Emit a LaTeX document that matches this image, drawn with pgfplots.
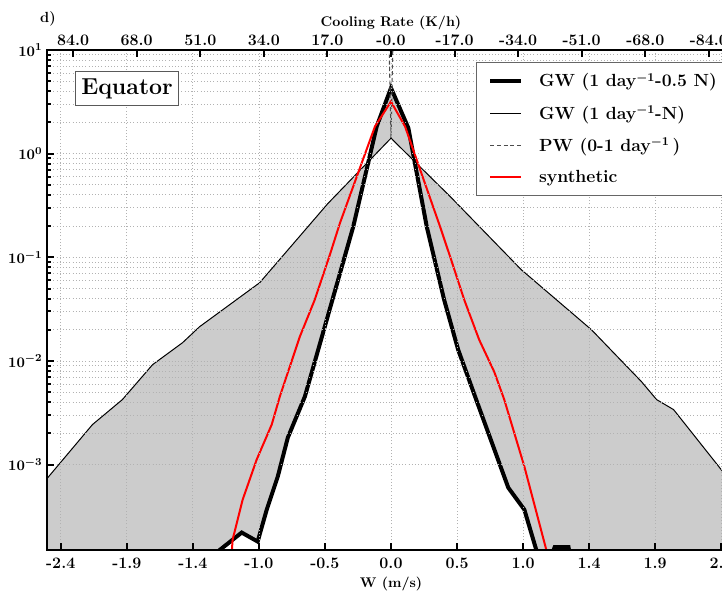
\documentclass[border=0pt]{standalone}
\usepackage{pgfplots}
\pgfplotsset{compat=1.18}

% GW (1 day^-1 - N): wide distribution, top edge of the grey band
\pgfplotstableread{
w p
-2.505 7.2e-4
-2.170 2.43e-3
-1.952 4.24e-3
-1.733 9.2e-3
-1.515 0.015
-1.391 0.0214
-0.954 0.0569
-0.459 0.33
0.000 1.41
0.430 0.386
0.947 0.0759
1.457 0.020
1.821 6.3e-3
1.930 4.24e-3
2.054 3.39e-3
2.410 8.6e-4
2.505 6.0e-4
}\tabwide

% GW (1 day^-1 - 0.5 N): narrow distribution
\pgfplotstableread{
w p
-2.505 1e-5
-1.400 3e-5
-1.245 1.5e-4
-1.085 2.21e-4
-0.969 1.81e-4
-0.903 3.68e-4
-0.823 7.66e-4
-0.750 1.82e-3
-0.626 4.53e-3
-0.2746 0.197
-0.104 1.83
0.000 4.3
0.126 1.77
0.260 0.197
0.386 0.039
0.488 0.01285
0.619 4.24e-3
0.852 6.0e-4
0.969 3.68e-4
1.056 1.5e-4
1.100 8e-5
1.190 1.6e-4
1.290 1.6e-4
1.330 8e-5
2.505 1e-5
}\tabnarrow

% grey band: wide curve left to right, then narrow curve right to left
\pgfplotstableread{
w p
-2.505 7.2e-4
-2.170 2.43e-3
-1.952 4.24e-3
-1.733 9.2e-3
-1.515 0.015
-1.391 0.0214
-0.954 0.0569
-0.459 0.33
0.000 1.41
0.430 0.386
0.947 0.0759
1.457 0.020
1.821 6.3e-3
1.930 4.24e-3
2.054 3.39e-3
2.410 8.6e-4
2.505 6.0e-4
2.505 1e-5
1.330 8e-5
1.290 1.6e-4
1.190 1.6e-4
1.100 8e-5
1.056 1.5e-4
0.969 3.68e-4
0.852 6.0e-4
0.619 4.24e-3
0.488 0.01285
0.386 0.039
0.260 0.197
0.126 1.77
0.000 4.3
-0.104 1.83
-0.2746 0.197
-0.626 4.53e-3
-0.750 1.82e-3
-0.823 7.66e-4
-0.903 3.68e-4
-0.969 1.81e-4
-1.085 2.21e-4
-1.245 1.5e-4
-1.400 3e-5
-2.505 1e-5
}\tabband

% PW (0-1 day^-1)
\pgfplotstableread{
w p
-0.02 30
0.00 1.42
0.02 30
}\tabpw

% synthetic
\pgfplotstableread{
w p
-1.165 1.0e-4
-1.151 1.89e-4
-1.078 4.59e-4
-0.976 1.12e-3
-0.867 2.43e-3
-0.808 4.53e-3
-0.663 0.0171
-0.554 0.039
-0.444 0.106
-0.371 0.214
-0.1165 1.83
0.000 3.18
0.102 1.83
0.357 0.197
0.437 0.0948
0.532 0.039
0.641 0.016
0.750 7.88e-3
0.823 4.24e-3
0.969 9.6e-4
1.129 1.5e-4
1.150 1.0e-4
}\tabsynth

\pgfplotsset{
  common/.style={
    at={(35.25pt,-412.5pt)}, anchor=south west,
    scale only axis, width=516pt, height=375pt,
    xmin=-2.5, xmax=2.5,
    axis line style={line width=2pt},
    tick style={line width=1.5pt, black},
    tick align=inside,
    major tick length=5.25pt,
    minor tick length=3pt,
    xticklabel style={font=\fontsize{12}{14}\selectfont\bfseries\boldmath},
    yticklabel style={font=\fontsize{11}{13}\selectfont\bfseries\boldmath},
    label style={font=\fontsize{10.5}{12}\selectfont\bfseries\boldmath},
  },
}

\begin{document}
\begin{tikzpicture}
\begin{scope}
\clip (0,0) rectangle (541.5pt,-443.25pt);
\begin{axis}[common,
  ymode=log, ymin=1.5e-4, ymax=10,
  xtick={-2.4,-1.92,-1.44,-0.96,-0.48,0,0.48,0.96,1.44,1.92,2.4},
  xticklabels={-2.4,-1.9,-1.4,-1.0,-0.5,0.0,0.5,1.0,1.4,1.9,2.4},
  xtick pos=left, ytick pos=left,
  ytick={1e-3,1e-2,1e-1,1,10},
  xticklabel style={yshift=-2.5pt},
  xlabel={W (m/s)},
  xlabel style={yshift=1pt},
  xmajorgrids, ymajorgrids, yminorgrids,
  major grid style={gray!60, line width=0.6pt, dash pattern=on 0.8pt off 1.6pt},
  minor grid style={gray!60, line width=0.6pt, dash pattern=on 0.8pt off 1.6pt},
  axis on top,
  legend cell align=left,
  legend image code/.code={\draw[#1] (0pt,0pt) -- (23pt,0pt);},
  legend style={at={(0.6235,0.9766)}, anchor=north west,
    draw=gray!80!black, line width=0.6pt, fill=white,
    font=\fontsize{13.2}{15}\selectfont\bfseries\boldmath,
    inner xsep=9pt, inner ysep=8.5pt, row sep=12.5pt,
    nodes={inner sep=0pt},
    /tikz/every odd column/.append style={column sep=12pt}},
]
\addplot[draw=none, fill=black!20, forget plot] table[x=w, y=p] {\tabband} -- cycle;

\addplot[black, line width=3pt] table[x=w, y=p] {\tabnarrow};
\addlegendentry{GW (1 day$^{-1}$-0.5 N)}
\addplot[black, line width=0.75pt] table[x=w, y=p] {\tabwide};
\addlegendentry{GW (1 day$^{-1}$-N)}
\addplot[black!70, line width=0.8pt, dash pattern=on 3pt off 2pt] table[x=w, y=p] {\tabpw};
\addlegendentry{PW (0-1 day$^{-1}$\,)}
\addplot[red, line width=1.5pt] table[x=w, y=p] {\tabsynth};
\addlegendentry{synthetic}
\end{axis}

\begin{axis}[common,
  axis x line*=top, axis y line=none,
  ymin=0, ymax=1,
  xtick={-2.31,-1.848,-1.386,-0.924,-0.462,0,0.462,0.924,1.386,1.848,2.31},
  xticklabels={84.0,68.0,51.0,34.0,17.0,-0.0,-17.0,-34.0,-51.0,-68.0,-84.0},
  xlabel={Cooling Rate (K/h)},
  xlabel style={at={(axis description cs:0.5,1)}, anchor=center, yshift=20.25pt},
]
\addplot[draw=none] coordinates {(-2.5,0) (2.5,1)};
\end{axis}
\end{scope}

\node[font=\fontsize{11}{13}\selectfont\bfseries] at (36pt,-14.5pt) {d)};
\node[draw=gray!70!black, line width=0.8pt, fill=white, inner xsep=4.2pt, inner ysep=5pt,
  font=\fontsize{17.3}{19}\selectfont\bfseries] at (95.25pt,-66.4pt) {Equator};

\pgfresetboundingbox
\useasboundingbox (0,0) rectangle (541.5pt,-443.25pt);
\end{tikzpicture}
\end{document}
